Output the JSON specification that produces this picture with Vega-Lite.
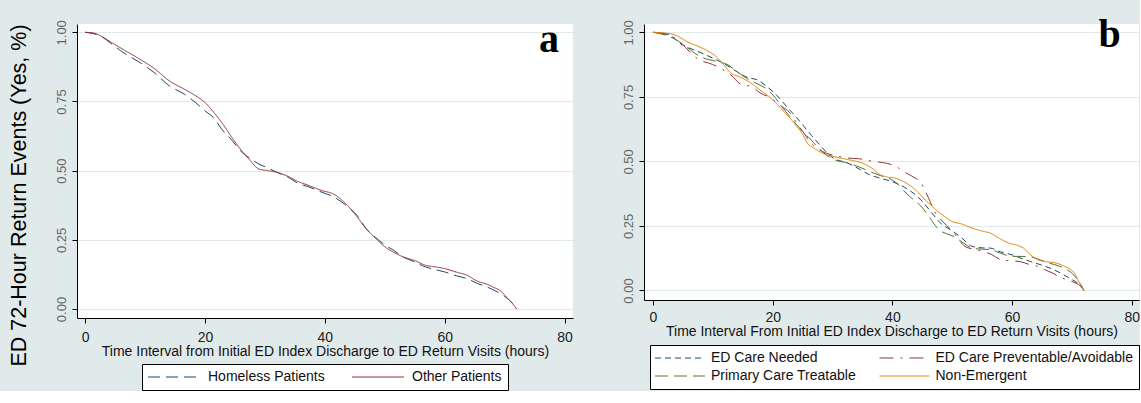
{
  "$schema": "https://vega.github.io/schema/vega-lite/v6.json",
  "background": "#e1eaeb",
  "padding": {"left": 8, "top": 14, "right": 0, "bottom": 0},
  "datasets": {
    "panelA": [
      {"t": 0, "s": 1.0, "group": "Homeless Patients"},
      {"t": 2.7, "s": 0.985, "group": "Homeless Patients"},
      {"t": 4.2, "s": 0.962, "group": "Homeless Patients"},
      {"t": 6.5, "s": 0.925, "group": "Homeless Patients"},
      {"t": 9.2, "s": 0.89, "group": "Homeless Patients"},
      {"t": 11.5, "s": 0.855, "group": "Homeless Patients"},
      {"t": 14.1, "s": 0.806, "group": "Homeless Patients"},
      {"t": 16.6, "s": 0.776, "group": "Homeless Patients"},
      {"t": 18.5, "s": 0.745, "group": "Homeless Patients"},
      {"t": 20, "s": 0.716, "group": "Homeless Patients"},
      {"t": 21.5, "s": 0.69, "group": "Homeless Patients"},
      {"t": 22.8, "s": 0.65, "group": "Homeless Patients"},
      {"t": 24.5, "s": 0.61, "group": "Homeless Patients"},
      {"t": 25.9, "s": 0.572, "group": "Homeless Patients"},
      {"t": 27.5, "s": 0.545, "group": "Homeless Patients"},
      {"t": 29, "s": 0.524, "group": "Homeless Patients"},
      {"t": 30.5, "s": 0.51, "group": "Homeless Patients"},
      {"t": 32, "s": 0.494, "group": "Homeless Patients"},
      {"t": 34, "s": 0.475, "group": "Homeless Patients"},
      {"t": 35.2, "s": 0.458, "group": "Homeless Patients"},
      {"t": 37.5, "s": 0.44, "group": "Homeless Patients"},
      {"t": 39.5, "s": 0.422, "group": "Homeless Patients"},
      {"t": 41.5, "s": 0.405, "group": "Homeless Patients"},
      {"t": 43.8, "s": 0.37, "group": "Homeless Patients"},
      {"t": 45.5, "s": 0.335, "group": "Homeless Patients"},
      {"t": 46.9, "s": 0.29, "group": "Homeless Patients"},
      {"t": 48.5, "s": 0.258, "group": "Homeless Patients"},
      {"t": 50, "s": 0.232, "group": "Homeless Patients"},
      {"t": 51.5, "s": 0.212, "group": "Homeless Patients"},
      {"t": 53.1, "s": 0.188, "group": "Homeless Patients"},
      {"t": 55, "s": 0.17, "group": "Homeless Patients"},
      {"t": 56.8, "s": 0.152, "group": "Homeless Patients"},
      {"t": 58.5, "s": 0.142, "group": "Homeless Patients"},
      {"t": 60, "s": 0.134, "group": "Homeless Patients"},
      {"t": 62, "s": 0.12, "group": "Homeless Patients"},
      {"t": 63.7, "s": 0.11, "group": "Homeless Patients"},
      {"t": 65.5, "s": 0.092, "group": "Homeless Patients"},
      {"t": 67, "s": 0.08, "group": "Homeless Patients"},
      {"t": 68.5, "s": 0.065, "group": "Homeless Patients"},
      {"t": 70, "s": 0.045, "group": "Homeless Patients"},
      {"t": 71, "s": 0.028, "group": "Homeless Patients"},
      {"t": 72, "s": 0.0, "group": "Homeless Patients"},
      {"t": 0, "s": 1.0, "group": "Other Patients"},
      {"t": 1.5, "s": 0.997, "group": "Other Patients"},
      {"t": 2.7, "s": 0.986, "group": "Other Patients"},
      {"t": 4.5, "s": 0.962, "group": "Other Patients"},
      {"t": 7, "s": 0.93, "group": "Other Patients"},
      {"t": 9.2, "s": 0.902, "group": "Other Patients"},
      {"t": 11.5, "s": 0.87, "group": "Other Patients"},
      {"t": 14.1, "s": 0.824, "group": "Other Patients"},
      {"t": 16.6, "s": 0.794, "group": "Other Patients"},
      {"t": 18.5, "s": 0.77, "group": "Other Patients"},
      {"t": 20, "s": 0.746, "group": "Other Patients"},
      {"t": 21.5, "s": 0.71, "group": "Other Patients"},
      {"t": 22.8, "s": 0.674, "group": "Other Patients"},
      {"t": 24.5, "s": 0.62, "group": "Other Patients"},
      {"t": 25.9, "s": 0.578, "group": "Other Patients"},
      {"t": 27.5, "s": 0.538, "group": "Other Patients"},
      {"t": 29, "s": 0.506, "group": "Other Patients"},
      {"t": 30.5, "s": 0.5, "group": "Other Patients"},
      {"t": 32, "s": 0.494, "group": "Other Patients"},
      {"t": 34, "s": 0.478, "group": "Other Patients"},
      {"t": 35.2, "s": 0.464, "group": "Other Patients"},
      {"t": 37.5, "s": 0.445, "group": "Other Patients"},
      {"t": 39.5, "s": 0.428, "group": "Other Patients"},
      {"t": 41.4, "s": 0.416, "group": "Other Patients"},
      {"t": 42.5, "s": 0.4, "group": "Other Patients"},
      {"t": 43.8, "s": 0.374, "group": "Other Patients"},
      {"t": 45.5, "s": 0.33, "group": "Other Patients"},
      {"t": 46.9, "s": 0.29, "group": "Other Patients"},
      {"t": 48.5, "s": 0.255, "group": "Other Patients"},
      {"t": 50, "s": 0.225, "group": "Other Patients"},
      {"t": 51.5, "s": 0.205, "group": "Other Patients"},
      {"t": 53.1, "s": 0.188, "group": "Other Patients"},
      {"t": 55, "s": 0.175, "group": "Other Patients"},
      {"t": 56.8, "s": 0.158, "group": "Other Patients"},
      {"t": 58.5, "s": 0.152, "group": "Other Patients"},
      {"t": 60, "s": 0.146, "group": "Other Patients"},
      {"t": 62, "s": 0.133, "group": "Other Patients"},
      {"t": 63.7, "s": 0.122, "group": "Other Patients"},
      {"t": 65.5, "s": 0.1, "group": "Other Patients"},
      {"t": 67, "s": 0.09, "group": "Other Patients"},
      {"t": 68, "s": 0.08, "group": "Other Patients"},
      {"t": 69.5, "s": 0.062, "group": "Other Patients"},
      {"t": 70.5, "s": 0.038, "group": "Other Patients"},
      {"t": 71.3, "s": 0.02, "group": "Other Patients"},
      {"t": 72, "s": 0.0, "group": "Other Patients"}
    ],
    "panelB": [
      {"t": 0, "s": 1.0, "group": "ED Care Needed"},
      {"t": 2, "s": 0.995, "group": "ED Care Needed"},
      {"t": 3.2, "s": 0.984, "group": "ED Care Needed"},
      {"t": 4.4, "s": 0.959, "group": "ED Care Needed"},
      {"t": 6, "s": 0.94, "group": "ED Care Needed"},
      {"t": 8.1, "s": 0.92, "group": "ED Care Needed"},
      {"t": 10, "s": 0.9, "group": "ED Care Needed"},
      {"t": 11.7, "s": 0.881, "group": "ED Care Needed"},
      {"t": 13.5, "s": 0.855, "group": "ED Care Needed"},
      {"t": 15.4, "s": 0.829, "group": "ED Care Needed"},
      {"t": 17.9, "s": 0.81, "group": "ED Care Needed"},
      {"t": 19, "s": 0.79, "group": "ED Care Needed"},
      {"t": 20.3, "s": 0.765, "group": "ED Care Needed"},
      {"t": 21.5, "s": 0.735, "group": "ED Care Needed"},
      {"t": 22.8, "s": 0.7, "group": "ED Care Needed"},
      {"t": 24, "s": 0.67, "group": "ED Care Needed"},
      {"t": 25.2, "s": 0.636, "group": "ED Care Needed"},
      {"t": 26.5, "s": 0.6, "group": "ED Care Needed"},
      {"t": 27.6, "s": 0.571, "group": "ED Care Needed"},
      {"t": 29, "s": 0.535, "group": "ED Care Needed"},
      {"t": 30.1, "s": 0.513, "group": "ED Care Needed"},
      {"t": 32.5, "s": 0.494, "group": "ED Care Needed"},
      {"t": 34.5, "s": 0.47, "group": "ED Care Needed"},
      {"t": 36.2, "s": 0.448, "group": "ED Care Needed"},
      {"t": 38, "s": 0.435, "group": "ED Care Needed"},
      {"t": 39.9, "s": 0.422, "group": "ED Care Needed"},
      {"t": 42, "s": 0.4, "group": "ED Care Needed"},
      {"t": 43.5, "s": 0.377, "group": "ED Care Needed"},
      {"t": 45, "s": 0.345, "group": "ED Care Needed"},
      {"t": 46.6, "s": 0.3, "group": "ED Care Needed"},
      {"t": 48, "s": 0.262, "group": "ED Care Needed"},
      {"t": 49.7, "s": 0.235, "group": "ED Care Needed"},
      {"t": 51.5, "s": 0.205, "group": "ED Care Needed"},
      {"t": 53.3, "s": 0.171, "group": "ED Care Needed"},
      {"t": 55, "s": 0.165, "group": "ED Care Needed"},
      {"t": 56.4, "s": 0.164, "group": "ED Care Needed"},
      {"t": 58, "s": 0.15, "group": "ED Care Needed"},
      {"t": 60, "s": 0.138, "group": "ED Care Needed"},
      {"t": 61.5, "s": 0.125, "group": "ED Care Needed"},
      {"t": 63.1, "s": 0.112, "group": "ED Care Needed"},
      {"t": 65.6, "s": 0.093, "group": "ED Care Needed"},
      {"t": 67, "s": 0.08, "group": "ED Care Needed"},
      {"t": 68.6, "s": 0.061, "group": "ED Care Needed"},
      {"t": 70, "s": 0.042, "group": "ED Care Needed"},
      {"t": 71, "s": 0.028, "group": "ED Care Needed"},
      {"t": 72, "s": 0.0, "group": "ED Care Needed"},
      {"t": 0, "s": 1.0, "group": "ED Care Preventable/Avoidable"},
      {"t": 2, "s": 0.993, "group": "ED Care Preventable/Avoidable"},
      {"t": 4.4, "s": 0.965, "group": "ED Care Preventable/Avoidable"},
      {"t": 5.5, "s": 0.94, "group": "ED Care Preventable/Avoidable"},
      {"t": 6.9, "s": 0.907, "group": "ED Care Preventable/Avoidable"},
      {"t": 8, "s": 0.89, "group": "ED Care Preventable/Avoidable"},
      {"t": 9.3, "s": 0.881, "group": "ED Care Preventable/Avoidable"},
      {"t": 10.5, "s": 0.87, "group": "ED Care Preventable/Avoidable"},
      {"t": 11.7, "s": 0.855, "group": "ED Care Preventable/Avoidable"},
      {"t": 13, "s": 0.835, "group": "ED Care Preventable/Avoidable"},
      {"t": 14.8, "s": 0.797, "group": "ED Care Preventable/Avoidable"},
      {"t": 16.5, "s": 0.79, "group": "ED Care Preventable/Avoidable"},
      {"t": 17.9, "s": 0.765, "group": "ED Care Preventable/Avoidable"},
      {"t": 19.5, "s": 0.748, "group": "ED Care Preventable/Avoidable"},
      {"t": 21.5, "s": 0.713, "group": "ED Care Preventable/Avoidable"},
      {"t": 22.8, "s": 0.69, "group": "ED Care Preventable/Avoidable"},
      {"t": 24, "s": 0.649, "group": "ED Care Preventable/Avoidable"},
      {"t": 25.2, "s": 0.61, "group": "ED Care Preventable/Avoidable"},
      {"t": 26.4, "s": 0.571, "group": "ED Care Preventable/Avoidable"},
      {"t": 27.5, "s": 0.55, "group": "ED Care Preventable/Avoidable"},
      {"t": 28.9, "s": 0.532, "group": "ED Care Preventable/Avoidable"},
      {"t": 30.5, "s": 0.522, "group": "ED Care Preventable/Avoidable"},
      {"t": 32.5, "s": 0.513, "group": "ED Care Preventable/Avoidable"},
      {"t": 34.5, "s": 0.51, "group": "ED Care Preventable/Avoidable"},
      {"t": 36.8, "s": 0.5, "group": "ED Care Preventable/Avoidable"},
      {"t": 38.5, "s": 0.495, "group": "ED Care Preventable/Avoidable"},
      {"t": 39.9, "s": 0.487, "group": "ED Care Preventable/Avoidable"},
      {"t": 41, "s": 0.475, "group": "ED Care Preventable/Avoidable"},
      {"t": 42.3, "s": 0.455, "group": "ED Care Preventable/Avoidable"},
      {"t": 43.5, "s": 0.44, "group": "ED Care Preventable/Avoidable"},
      {"t": 44.8, "s": 0.416, "group": "ED Care Preventable/Avoidable"},
      {"t": 46, "s": 0.36, "group": "ED Care Preventable/Avoidable"},
      {"t": 47.2, "s": 0.3, "group": "ED Care Preventable/Avoidable"},
      {"t": 48.5, "s": 0.265, "group": "ED Care Preventable/Avoidable"},
      {"t": 50.3, "s": 0.222, "group": "ED Care Preventable/Avoidable"},
      {"t": 51.3, "s": 0.19, "group": "ED Care Preventable/Avoidable"},
      {"t": 52.1, "s": 0.171, "group": "ED Care Preventable/Avoidable"},
      {"t": 53.5, "s": 0.16, "group": "ED Care Preventable/Avoidable"},
      {"t": 55.2, "s": 0.151, "group": "ED Care Preventable/Avoidable"},
      {"t": 56.5, "s": 0.14, "group": "ED Care Preventable/Avoidable"},
      {"t": 58.2, "s": 0.119, "group": "ED Care Preventable/Avoidable"},
      {"t": 60, "s": 0.115, "group": "ED Care Preventable/Avoidable"},
      {"t": 61.3, "s": 0.112, "group": "ED Care Preventable/Avoidable"},
      {"t": 63, "s": 0.1, "group": "ED Care Preventable/Avoidable"},
      {"t": 64.3, "s": 0.093, "group": "ED Care Preventable/Avoidable"},
      {"t": 65.5, "s": 0.08, "group": "ED Care Preventable/Avoidable"},
      {"t": 66.8, "s": 0.067, "group": "ED Care Preventable/Avoidable"},
      {"t": 68, "s": 0.052, "group": "ED Care Preventable/Avoidable"},
      {"t": 69.2, "s": 0.041, "group": "ED Care Preventable/Avoidable"},
      {"t": 70.5, "s": 0.03, "group": "ED Care Preventable/Avoidable"},
      {"t": 71.3, "s": 0.02, "group": "ED Care Preventable/Avoidable"},
      {"t": 72, "s": 0.0, "group": "ED Care Preventable/Avoidable"},
      {"t": 0, "s": 1.0, "group": "Primary Care Treatable"},
      {"t": 2, "s": 0.99, "group": "Primary Care Treatable"},
      {"t": 3.8, "s": 0.972, "group": "Primary Care Treatable"},
      {"t": 5.5, "s": 0.945, "group": "Primary Care Treatable"},
      {"t": 6.9, "s": 0.92, "group": "Primary Care Treatable"},
      {"t": 8.5, "s": 0.9, "group": "Primary Care Treatable"},
      {"t": 10.5, "s": 0.888, "group": "Primary Care Treatable"},
      {"t": 11.5, "s": 0.882, "group": "Primary Care Treatable"},
      {"t": 12.4, "s": 0.876, "group": "Primary Care Treatable"},
      {"t": 13.6, "s": 0.855, "group": "Primary Care Treatable"},
      {"t": 14.8, "s": 0.835, "group": "Primary Care Treatable"},
      {"t": 16, "s": 0.817, "group": "Primary Care Treatable"},
      {"t": 17.5, "s": 0.8, "group": "Primary Care Treatable"},
      {"t": 19.1, "s": 0.778, "group": "Primary Care Treatable"},
      {"t": 20.5, "s": 0.745, "group": "Primary Care Treatable"},
      {"t": 21.5, "s": 0.713, "group": "Primary Care Treatable"},
      {"t": 22.8, "s": 0.675, "group": "Primary Care Treatable"},
      {"t": 24, "s": 0.642, "group": "Primary Care Treatable"},
      {"t": 25.2, "s": 0.61, "group": "Primary Care Treatable"},
      {"t": 26.4, "s": 0.584, "group": "Primary Care Treatable"},
      {"t": 27.5, "s": 0.555, "group": "Primary Care Treatable"},
      {"t": 28.9, "s": 0.526, "group": "Primary Care Treatable"},
      {"t": 30.5, "s": 0.505, "group": "Primary Care Treatable"},
      {"t": 32.5, "s": 0.494, "group": "Primary Care Treatable"},
      {"t": 34.5, "s": 0.478, "group": "Primary Care Treatable"},
      {"t": 36.2, "s": 0.461, "group": "Primary Care Treatable"},
      {"t": 38, "s": 0.445, "group": "Primary Care Treatable"},
      {"t": 39.9, "s": 0.429, "group": "Primary Care Treatable"},
      {"t": 41, "s": 0.41, "group": "Primary Care Treatable"},
      {"t": 42.3, "s": 0.377, "group": "Primary Care Treatable"},
      {"t": 43.5, "s": 0.352, "group": "Primary Care Treatable"},
      {"t": 44.8, "s": 0.326, "group": "Primary Care Treatable"},
      {"t": 46, "s": 0.29, "group": "Primary Care Treatable"},
      {"t": 47.8, "s": 0.235, "group": "Primary Care Treatable"},
      {"t": 49, "s": 0.22, "group": "Primary Care Treatable"},
      {"t": 50.3, "s": 0.209, "group": "Primary Care Treatable"},
      {"t": 51.8, "s": 0.185, "group": "Primary Care Treatable"},
      {"t": 53.3, "s": 0.164, "group": "Primary Care Treatable"},
      {"t": 55, "s": 0.16, "group": "Primary Care Treatable"},
      {"t": 56.4, "s": 0.158, "group": "Primary Care Treatable"},
      {"t": 58, "s": 0.145, "group": "Primary Care Treatable"},
      {"t": 60, "s": 0.132, "group": "Primary Care Treatable"},
      {"t": 61.5, "s": 0.132, "group": "Primary Care Treatable"},
      {"t": 63.1, "s": 0.13, "group": "Primary Care Treatable"},
      {"t": 64.5, "s": 0.12, "group": "Primary Care Treatable"},
      {"t": 66.2, "s": 0.106, "group": "Primary Care Treatable"},
      {"t": 67.8, "s": 0.095, "group": "Primary Care Treatable"},
      {"t": 69.2, "s": 0.08, "group": "Primary Care Treatable"},
      {"t": 70.3, "s": 0.06, "group": "Primary Care Treatable"},
      {"t": 71, "s": 0.041, "group": "Primary Care Treatable"},
      {"t": 72, "s": 0.0, "group": "Primary Care Treatable"},
      {"t": 0, "s": 1.0, "group": "Non-Emergent"},
      {"t": 2, "s": 0.997, "group": "Non-Emergent"},
      {"t": 3.5, "s": 0.991, "group": "Non-Emergent"},
      {"t": 4.5, "s": 0.98, "group": "Non-Emergent"},
      {"t": 5.6, "s": 0.965, "group": "Non-Emergent"},
      {"t": 7.5, "s": 0.946, "group": "Non-Emergent"},
      {"t": 9, "s": 0.93, "group": "Non-Emergent"},
      {"t": 10.5, "s": 0.907, "group": "Non-Emergent"},
      {"t": 11.8, "s": 0.875, "group": "Non-Emergent"},
      {"t": 13, "s": 0.842, "group": "Non-Emergent"},
      {"t": 14.2, "s": 0.83, "group": "Non-Emergent"},
      {"t": 15.4, "s": 0.817, "group": "Non-Emergent"},
      {"t": 16.6, "s": 0.8, "group": "Non-Emergent"},
      {"t": 17.8, "s": 0.778, "group": "Non-Emergent"},
      {"t": 19, "s": 0.758, "group": "Non-Emergent"},
      {"t": 20, "s": 0.739, "group": "Non-Emergent"},
      {"t": 21, "s": 0.715, "group": "Non-Emergent"},
      {"t": 22.1, "s": 0.687, "group": "Non-Emergent"},
      {"t": 23, "s": 0.665, "group": "Non-Emergent"},
      {"t": 24, "s": 0.636, "group": "Non-Emergent"},
      {"t": 25, "s": 0.605, "group": "Non-Emergent"},
      {"t": 25.8, "s": 0.571, "group": "Non-Emergent"},
      {"t": 27, "s": 0.55, "group": "Non-Emergent"},
      {"t": 28.9, "s": 0.526, "group": "Non-Emergent"},
      {"t": 30, "s": 0.52, "group": "Non-Emergent"},
      {"t": 31.3, "s": 0.513, "group": "Non-Emergent"},
      {"t": 33, "s": 0.505, "group": "Non-Emergent"},
      {"t": 34.9, "s": 0.494, "group": "Non-Emergent"},
      {"t": 36.5, "s": 0.475, "group": "Non-Emergent"},
      {"t": 38, "s": 0.448, "group": "Non-Emergent"},
      {"t": 39, "s": 0.44, "group": "Non-Emergent"},
      {"t": 40.5, "s": 0.435, "group": "Non-Emergent"},
      {"t": 42, "s": 0.42, "group": "Non-Emergent"},
      {"t": 43.5, "s": 0.397, "group": "Non-Emergent"},
      {"t": 44.5, "s": 0.375, "group": "Non-Emergent"},
      {"t": 45.5, "s": 0.35, "group": "Non-Emergent"},
      {"t": 46.5, "s": 0.33, "group": "Non-Emergent"},
      {"t": 47.2, "s": 0.313, "group": "Non-Emergent"},
      {"t": 48.5, "s": 0.29, "group": "Non-Emergent"},
      {"t": 50, "s": 0.267, "group": "Non-Emergent"},
      {"t": 51.5, "s": 0.258, "group": "Non-Emergent"},
      {"t": 53.3, "s": 0.242, "group": "Non-Emergent"},
      {"t": 55, "s": 0.23, "group": "Non-Emergent"},
      {"t": 56.4, "s": 0.222, "group": "Non-Emergent"},
      {"t": 58, "s": 0.2, "group": "Non-Emergent"},
      {"t": 59.5, "s": 0.183, "group": "Non-Emergent"},
      {"t": 61, "s": 0.174, "group": "Non-Emergent"},
      {"t": 61.9, "s": 0.164, "group": "Non-Emergent"},
      {"t": 63, "s": 0.14, "group": "Non-Emergent"},
      {"t": 64.3, "s": 0.119, "group": "Non-Emergent"},
      {"t": 65.5, "s": 0.112, "group": "Non-Emergent"},
      {"t": 67.4, "s": 0.106, "group": "Non-Emergent"},
      {"t": 68.6, "s": 0.095, "group": "Non-Emergent"},
      {"t": 69.8, "s": 0.08, "group": "Non-Emergent"},
      {"t": 70.5, "s": 0.065, "group": "Non-Emergent"},
      {"t": 71, "s": 0.041, "group": "Non-Emergent"},
      {"t": 71.5, "s": 0.02, "group": "Non-Emergent"},
      {"t": 72, "s": 0.0, "group": "Non-Emergent"}
    ]
  },
  "spacing": 71,
  "bounds": "flush",
  "resolve": {
    "scale": {"color": "independent", "strokeDash": "independent", "x": "independent", "y": "independent"},
    "legend": {"color": "independent", "strokeDash": "independent"}
  },
  "hconcat": [
    {
      "width": 496,
      "height": 294,
      "layer": [
        {
          "data": {"name": "panelA"},
          "mark": {"type": "line", "strokeWidth": 1, "interpolate": "monotone"},
          "encoding": {
            "x": {
              "field": "t", "type": "quantitative",
              "scale": {"domain": [-1.34, 81.4], "nice": false, "zero": false},
              "title": "Time Interval from Initial ED Index Discharge to ED Return Visits (hours)",
              "axis": {"values": [0, 20, 40, 60, 80], "labelPadding": 7, "titlePadding": 0}
            },
            "y": {
              "field": "s", "type": "quantitative",
              "scale": {"domain": [-0.0325, 1.03], "nice": false, "zero": false},
              "title": "ED 72-Hour Return Events (Yes,  %)",
              "axis": {
                "values": [0, 0.25, 0.5, 0.75, 1], "format": ".2f",
                "titleFontSize": 21.5, "titleColor": "#000000", "titleAngle": -90,
                "titleX": -58, "titleY": 171, "titleAlign": "center", "titleBaseline": "middle"
              }
            },
            "color": {
              "field": "group", "type": "nominal",
              "scale": {"domain": ["Homeless Patients", "Other Patients"], "range": ["#1a476f", "#90353b"]},
              "legend": {
                "title": null, "orient": "none", "legendX": 65, "legendY": 340,
                "direction": "horizontal", "columns": 2, "columnPadding": 25,
                "symbolType": "M-7,0H45", "symbolSize": 4, "symbolStrokeWidth": 1, "labelOffset": 46,
                "padding": 6, "strokeColor": "#000000", "fillColor": "#ffffff", "labelLimit": 400
              }
            },
            "strokeDash": {
              "field": "group", "type": "nominal",
              "scale": {"domain": ["Homeless Patients", "Other Patients"], "range": [[12, 6], [1, 0]]},
              "legend": {
                "title": null, "orient": "none", "legendX": 65, "legendY": 340,
                "direction": "horizontal", "columns": 2, "columnPadding": 25,
                "symbolType": "M-7,0H45", "symbolSize": 4, "symbolStrokeWidth": 1, "labelOffset": 46,
                "padding": 6, "strokeColor": "#000000", "fillColor": "#ffffff", "labelLimit": 400
              }
            }
          }
        },
        {
          "data": {"values": [{"label": "a"}]},
          "mark": {"type": "text", "font": "Liberation Serif", "fontWeight": "bold", "fontSize": 40, "align": "center", "baseline": "alphabetic", "color": "#000000"},
          "encoding": {
            "x": {"datum": 77.4, "type": "quantitative", "title": "Time Interval from Initial ED Index Discharge to ED Return Visits (hours)"},
            "y": {"datum": 0.93, "type": "quantitative", "title": "ED 72-Hour Return Events (Yes,  %)"},
            "text": {"field": "label"}
          }
        }
      ]
    },
    {
      "width": 495,
      "height": 276,
      "layer": [
        {
          "data": {"name": "panelB"},
          "mark": {"type": "line", "strokeWidth": 1, "interpolate": "monotone"},
          "encoding": {
            "x": {
              "field": "t", "type": "quantitative",
              "scale": {"domain": [-1.5, 81.2], "nice": false, "zero": false},
              "title": "Time Interval From Initial ED Index Discharge to ED Return Visits (hours)",
              "axis": {"values": [0, 20, 40, 60, 80], "labelPadding": 5, "titlePadding": 0}
            },
            "y": {
              "field": "s", "type": "quantitative",
              "scale": {"domain": [-0.0369, 1.0322], "nice": false, "zero": false},
              "title": null,
              "axis": {"values": [0, 0.25, 0.5, 0.75, 1], "format": ".2f"}
            },
            "color": {
              "field": "group", "type": "nominal",
              "scale": {"domain": ["ED Care Needed", "ED Care Preventable/Avoidable", "Primary Care Treatable", "Non-Emergent"], "range": ["#1a476f", "#90353b", "#55752f", "#e37e00"]},
              "legend": {
                "title": null, "orient": "none", "legendX": 6, "legendY": 321,
                "direction": "horizontal", "columns": 2, "columnPadding": 21.5, "rowPadding": 4,
                "symbolType": "M-8,0H42", "symbolSize": 4, "symbolStrokeWidth": 1, "labelOffset": 41,
                "padding": 6, "strokeColor": "#000000", "fillColor": "#ffffff", "labelLimit": 400
              }
            },
            "strokeDash": {
              "field": "group", "type": "nominal",
              "scale": {"domain": ["ED Care Needed", "ED Care Preventable/Avoidable", "Primary Care Treatable", "Non-Emergent"], "range": [[6, 4], [14, 7, 2, 7], [13, 6], [1, 0]]},
              "legend": {
                "title": null, "orient": "none", "legendX": 6, "legendY": 321,
                "direction": "horizontal", "columns": 2, "columnPadding": 21.5, "rowPadding": 4,
                "symbolType": "M-8,0H42", "symbolSize": 4, "symbolStrokeWidth": 1, "labelOffset": 41,
                "padding": 6, "strokeColor": "#000000", "fillColor": "#ffffff", "labelLimit": 400
              }
            }
          }
        },
        {
          "data": {"values": [{"label": "b"}]},
          "mark": {"type": "text", "font": "Liberation Serif", "fontWeight": "bold", "fontSize": 40, "align": "center", "baseline": "alphabetic", "color": "#000000"},
          "encoding": {
            "x": {"datum": 76.3, "type": "quantitative", "title": "Time Interval From Initial ED Index Discharge to ED Return Visits (hours)"},
            "y": {"datum": 0.944, "type": "quantitative", "title": null},
            "text": {"field": "label"}
          }
        }
      ]
    }
  ],
  "config": {
    "view": {"fill": "#ffffff", "stroke": null},
    "font": "Liberation Sans",
    "axis": {
      "domainColor": "#000000", "tickColor": "#000000", "tickSize": 5,
      "labelFont": "Liberation Sans", "titleFont": "Liberation Sans",
      "titleFontWeight": "normal", "titleFontSize": 14, "titleColor": "#111111",
      "labelFontSize": 14, "labelColor": "#222222", "gridColor": "#e0eaec"
    },
    "axisX": {"grid": false, "labelAngle": 0},
    "axisY": {"grid": true, "labelAngle": -90, "labelFontSize": 13, "labelColor": "#666666", "labelPadding": 4},
    "legend": {"labelFont": "Liberation Sans", "labelFontSize": 14, "labelColor": "#111111", "labelLimit": 400}
  }
}
